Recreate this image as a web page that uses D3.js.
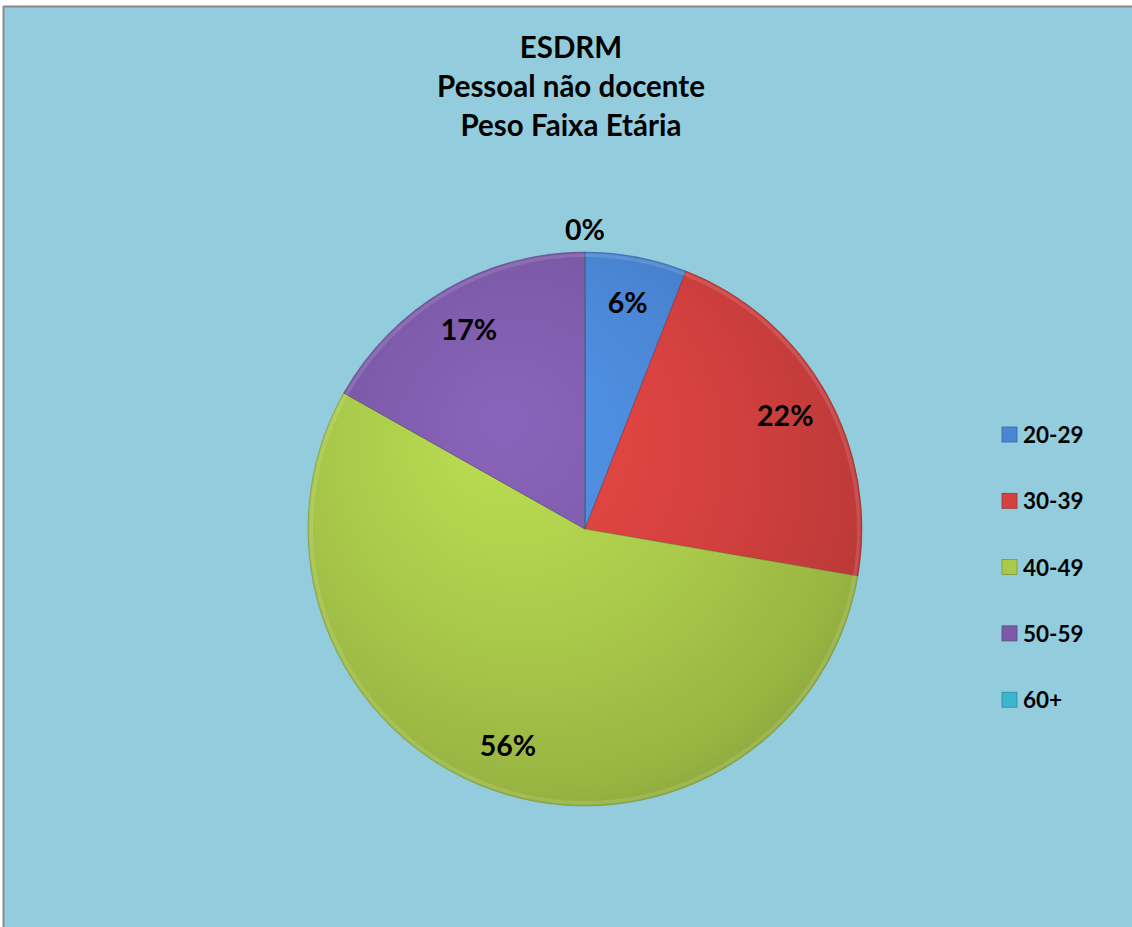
<!DOCTYPE html>
<html>
<head>
<meta charset="utf-8">
<script src="https://cdn.jsdelivr.net/npm/d3@7"></script>
<style>
  html, body { margin: 0; padding: 0; background: #ffffff; }
  svg { display: block; }
</style>
</head>
<body>
<svg id="chart" width="1132" height="927"></svg>
<script>
// Age groups and their share of non-teaching staff (%)
const categories = ["20-29", "30-39", "40-49", "50-59", "60+"];
const values = [6, 22, 56, 17, 0];
const titleLines = ["ESDRM", "Pessoal não docente", "Peso Faixa Etária"];
const colors = ["#4a86d4", "#d4413f", "#a9c94a", "#7c5aa8", "#3cb6cf"];

const W = 1132, H = 927;
const svg = d3.select("#chart");
const font = "Lato, 'Open Sans', sans-serif";

// Chart area background with a grey frame on the top and left
svg.append("rect").attr("x", 0).attr("y", 0).attr("width", W).attr("height", H).attr("fill", "#ffffff");
svg.append("rect").attr("x", 4).attr("y", 7).attr("width", W - 4).attr("height", H - 7).attr("fill", "#93cddd");
svg.append("line").attr("x1", 3).attr("x2", W).attr("y1", 6.5).attr("y2", 6.5).attr("stroke", "#8a8a8a").attr("stroke-width", 2);
svg.append("line").attr("x1", 3.5).attr("x2", 3.5).attr("y1", 6).attr("y2", H).attr("stroke", "#8a8a8a").attr("stroke-width", 2);

// Title
const title = svg.append("text")
  .attr("x", 571).attr("y", 58)
  .attr("text-anchor", "middle")
  .attr("font-family", font).attr("font-weight", "bold").attr("font-size", 29.5)
  .attr("fill", "#000");
titleLines.forEach((t, i) => {
  title.append("tspan").attr("x", 571).attr("dy", i === 0 ? 0 : 39).text(t);
});

// Pie
const cx = 585, cy = 529, r = 277;
const g = svg.append("g").attr("transform", `translate(${cx},${cy})`);
const defs = svg.append("defs");

colors.forEach((c, i) => {
  const base = d3.color(c);
  const grad = defs.append("radialGradient")
    .attr("id", "grad" + i)
    .attr("gradientUnits", "userSpaceOnUse")
    .attr("cx", -r * 0.15).attr("cy", -r * 0.2).attr("r", r * 1.25)
    .attr("fx", -r * 0.3).attr("fy", -r * 0.4);
  grad.append("stop").attr("offset", "0%").attr("stop-color", base.brighter(0.3));
  grad.append("stop").attr("offset", "55%").attr("stop-color", base);
  grad.append("stop").attr("offset", "92%").attr("stop-color", base.darker(0.3));
  grad.append("stop").attr("offset", "100%").attr("stop-color", base.darker(0.45));
});

const pie = d3.pie().value(d => d).sort(null);
const arcs = pie(values);
const arc = d3.arc().innerRadius(0).outerRadius(r);

g.selectAll("path.slice")
  .data(arcs)
  .join("path")
  .attr("class", "slice")
  .attr("d", arc)
  .attr("fill", (d, i) => `url(#grad${i})`)
  .attr("stroke", (d, i) => d3.color(colors[i]).darker(1.2))
  .attr("stroke-opacity", 0.5)
  .attr("stroke-width", 1);

// Soft light edge along the slice borders
g.selectAll("path.rim")
  .data(arcs)
  .join("path")
  .attr("class", "rim")
  .attr("d", d3.arc().innerRadius(r - 5).outerRadius(r - 1.5))
  .attr("fill", "#ffffff")
  .attr("fill-opacity", 0.12);

// Percentage labels
const labelArc = d3.arc().innerRadius(r * 0.83).outerRadius(r * 0.83);
g.selectAll("text.pct")
  .data(arcs)
  .join("text")
  .attr("class", "pct")
  .attr("transform", d => {
    if (d.data === 0) {
      const a = d.startAngle;
      const rr = r + 22;
      return `translate(${Math.sin(a) * rr},${-Math.cos(a) * rr})`;
    }
    const [x, y] = labelArc.centroid(d);
    return `translate(${x},${y})`;
  })
  .attr("text-anchor", "middle")
  .attr("dy", "0.35em")
  .attr("font-family", font).attr("font-weight", "bold").attr("font-size", 28.5)
  .attr("fill", "#000")
  .text(d => d.data + "%");

// Legend
const legend = svg.append("g").attr("transform", "translate(1002,427)");
const item = legend.selectAll("g")
  .data(categories)
  .join("g")
  .attr("transform", (d, i) => `translate(0,${i * 66.3})`);
item.append("rect")
  .attr("width", 15).attr("height", 15)
  .attr("fill", (d, i) => colors[i])
  .attr("stroke", (d, i) => d3.color(colors[i]).darker(0.8))
  .attr("stroke-width", 0.8);
item.append("text")
  .attr("x", 21).attr("y", 8).attr("dy", "0.36em")
  .attr("font-family", font).attr("font-weight", "bold").attr("font-size", 22.5)
  .attr("fill", "#000")
  .text(d => d);
</script>
</body>
</html>
